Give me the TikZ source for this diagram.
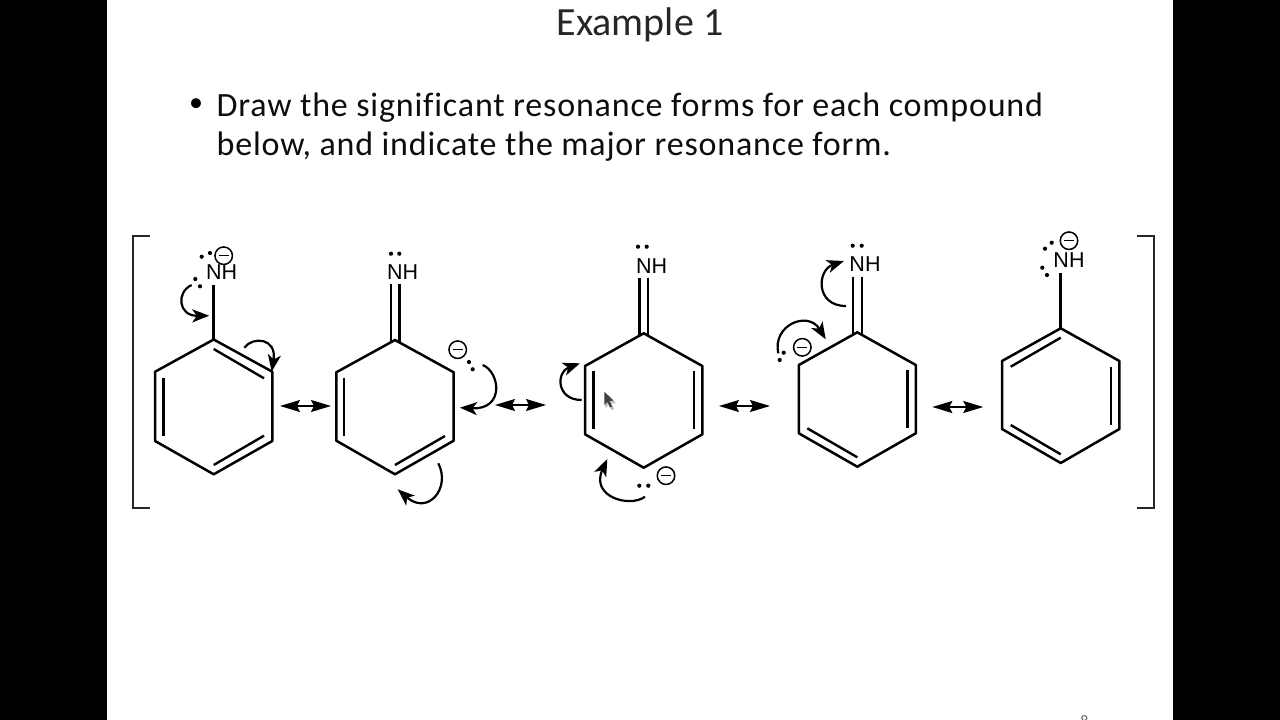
\documentclass[tikz,border=0pt]{standalone}
\usepackage{fontspec}
\setmainfont{Carlito}[Ligatures=CommonOff]
\newfontfamily\bodyfont{Carlito}[LetterSpace=2.4,Ligatures=CommonOff]
\newfontfamily\chemfont{Liberation Sans}
\usetikzlibrary{arrows.meta}
\tikzset{
  bond/.style={line width=2.5pt,line join=round,line cap=round,black},
  inner bond/.style={line width=2.4pt,line cap=butt,black},
  bracket/.style={line width=2.2pt,line join=miter,black!85},
  curly/.style={line width=2.2pt,black,-{Stealth[length=17pt,width=13pt,inset=4.5pt]}},
  resarrow/.style={line width=1.6pt,black,{Stealth[length=20pt,width=12pt,inset=3pt]}-{Stealth[length=20pt,width=12pt,inset=3pt]}},
  nh/.style={font=\chemfont\fontsize{21.5}{21.5}\selectfont,inner sep=0pt,text=black},
  minus/.style={circle,draw=black,line width=1.5pt,minimum size=17.5pt,inner sep=0pt},
  epair/.style={circle,fill=black,minimum size=4.2pt,inner sep=0pt},
  title/.style={font=\fontsize{40}{40}\selectfont,inner sep=0pt,text=black!85},
  body/.style={font=\bodyfont\fontsize{34}{39}\selectfont,inner sep=0pt,anchor=base west,text=black!95}
}
\newcommand{\ring}[8]{% name, cx, top y, UR y, LR y, bottom y, half width
  \coordinate (#1t) at (#2,#3);
  \coordinate (#1ur) at (#2+#7,#4);
  \coordinate (#1lr) at (#2+#7,#5);
  \coordinate (#1b) at (#2,#6);
  \coordinate (#1ll) at (#2-#7,#5);
  \coordinate (#1ul) at (#2-#7,#4);
  \draw[bond] (#1t) -- (#1ur) -- (#1lr) -- (#1b) -- (#1ll) -- (#1ul) -- cycle;
}
\newcommand{\minussign}[3]{%
  \node[minus] (#1) at (#2,#3) {};
  \draw[line width=1.5pt,black] ([xshift=-5pt]#1.center) -- ([xshift=5pt]#1.center);
}
\begin{document}
\begin{tikzpicture}[x=1pt,y=-1pt]
\useasboundingbox (0,0) rectangle (1280,720);
\fill[white] (0,0) rectangle (1280,720);
\fill[black] (0,0) rectangle (106.5,720);
\fill[black] (1173.3,0) rectangle (1280,720);

\node[title] (ttl) at (640,24.5) {Example 1};
\node[font=\fontsize{28}{28}\selectfont,inner sep=0pt,text=black] (bul) at (196,105) {•};
\node[body] (l1) at (216.5,116.5) {Draw the significant resonance forms for each compound};
\node[body] (l2) at (216.5,155.5) {below, and indicate the major resonance form.};
\begin{scope}
\clip (1060,700) rectangle (1110,720);
\node[font=\fontsize{16}{16}\selectfont,text=black!60,anchor=north,inner sep=0pt] (pg) at (1084.5,715.5) {8};
\end{scope}

% brackets
\coordinate (bl1) at (150,235.7); \coordinate (bl2) at (132.7,235.7);
\coordinate (bl3) at (132.7,508.3); \coordinate (bl4) at (150,508.3);
\draw[bracket] (bl1) -- (bl2) -- (bl3) -- (bl4);
\coordinate (br1) at (1137.3,235.7); \coordinate (br2) at (1154.3,235.7);
\coordinate (br3) at (1154.3,508.3); \coordinate (br4) at (1137.3,508.3);
\draw[bracket] (br1) -- (br2) -- (br3) -- (br4);

% molecule 1
\ring{a}{213.7}{339.5}{371.7}{441}{474.3}{58.6}{}
\draw[inner bond] (213.7,349) -- (264,378.3);
\draw[inner bond] (163.3,378.3) -- (163.3,435.7);
\draw[inner bond] (213.7,465) -- (264,435.7);
\node[nh] (an) at (221.7,272.3) {NH};
\coordinate (ab) at (213.7,285);
\draw[bond,line cap=butt] (at) -- (ab);
\minussign{am}{223.7}{255.7}
\node[epair] (ae1) at (201.7,256.7) {}; \node[epair] (ae2) at (210,253) {};
\node[epair] (ae3) at (195.3,279) {}; \node[epair] (ae4) at (200,286.3) {};
\draw[curly] (191.7,285) .. controls (176,292) and (178,316) .. (209.3,315.7);
\draw[curly] (244.3,347.7) .. controls (253,336) and (277,338) .. (271.7,371.7);
\coordinate (r1a) at (280,406); \coordinate (r1b) at (331,406);
\draw[resarrow] (r1a) -- (r1b);

% molecule 2
\ring{b}{395}{340}{372.3}{440.7}{474.3}{58.7}{}
\draw[inner bond] (344,377.7) -- (344,435.7);
\draw[inner bond] (395,465) -- (445,436);
\node[nh] (bn) at (402.7,272.3) {NH};
\draw[inner bond] (390.7,284.3) -- (390.7,342);
\draw[inner bond] (399.3,284.3) -- (399.3,342);
\node[epair] (be1) at (391,253.7) {}; \node[epair] (be2) at (399.3,253.7) {};
\minussign{bm}{457.7}{349.7}
\node[epair] (be3) at (469,362) {}; \node[epair] (be4) at (472.7,369.3) {};
\draw[curly] (482.7,365) .. controls (500,372) and (505,410) .. (460,407.7);
\draw[curly] (438.3,463.3) .. controls (451,488) and (428,516) .. (397.7,489.3);
\coordinate (r2a) at (495,405); \coordinate (r2b) at (546,405);
\draw[resarrow] (r2a) -- (r2b);

% molecule 3
\ring{c}{643.7}{333.3}{366}{434.3}{467.7}{58.7}{}
\draw[inner bond] (593.3,371) -- (593.3,429);
\draw[inner bond] (694,371) -- (694,429);
\node[nh] (cn) at (651.7,265.7) {NH};
\draw[inner bond] (639.3,278.3) -- (639.3,335.5);
\draw[inner bond] (648,278.3) -- (648,335.5);
\node[epair] (ce1) at (638,246.7) {}; \node[epair] (ce2) at (646.7,246.7) {};
\node[epair] (ce3) at (639.3,485.7) {}; \node[epair] (ce4) at (648.3,485.7) {};
\minussign{cm}{666}{475.7}
\draw[curly] (581.7,400) .. controls (556,400) and (556,372) .. (580,363.3);
\draw[curly] (645,496.7) .. controls (630,508) and (590,497) .. (607.3,459);
\coordinate (r3a) at (719,406); \coordinate (r3b) at (770,406);
\draw[resarrow] (r3a) -- (r3b);
% mouse pointer
\fill[black!25] (605.3,393) -- (605.3,408) -- (609,404.5) -- (611.5,410) -- (614,409) -- (611.5,403.5) -- (616,403) -- cycle;
\fill[black!75] (604.3,391.7) -- (604.3,405) -- (607.5,402) -- (610,407.5) -- (612,406.5) -- (609.5,401) -- (613.5,400.5) -- cycle;

% molecule 4
\ring{d}{857.3}{332.3}{365}{433.3}{466.7}{58.5}{}
\draw[inner bond] (907.3,370.3) -- (907.3,427.7);
\draw[inner bond] (807.3,428.3) -- (857.3,457.3);
\node[nh] (dn) at (865,264.3) {NH};
\draw[inner bond] (853,276.7) -- (853,334.5);
\draw[inner bond] (861.7,276.7) -- (861.7,334.5);
\node[epair] (de1) at (852.7,245.7) {}; \node[epair] (de2) at (861.7,245.7) {};
\node[epair] (de3) at (783.7,352.7) {}; \node[epair] (de4) at (779.7,360) {};
\minussign{dm}{802.3}{347.3}
\draw[curly] (846,306) .. controls (815,306) and (817,270) .. (844,261);
\draw[curly] (778.3,353.3) .. controls (772,325) and (808,310) .. (825.7,339.3);
\coordinate (r4a) at (932.3,407); \coordinate (r4b) at (983.3,407);
\draw[resarrow] (r4a) -- (r4b);

% molecule 5
\ring{e}{1060.7}{328.3}{361}{429}{463}{58.7}{}
\draw[inner bond] (1010.7,366.7) -- (1060.7,337.7);
\draw[inner bond] (1110.7,366.7) -- (1110.7,425);
\draw[inner bond] (1010.7,425) -- (1060.7,454.3);
\node[nh] (en) at (1069,260) {NH};
\coordinate (eb) at (1060.7,273.3);
\draw[bond,line cap=butt] (et) -- (eb);
\minussign{em}{1069}{240.7}
\node[epair] (ee1) at (1051.7,242.7) {}; \node[epair] (ee2) at (1045,248.7) {};
\node[epair] (ee3) at (1042.3,267.7) {}; \node[epair] (ee4) at (1047,275) {};
\end{tikzpicture}
\end{document}
